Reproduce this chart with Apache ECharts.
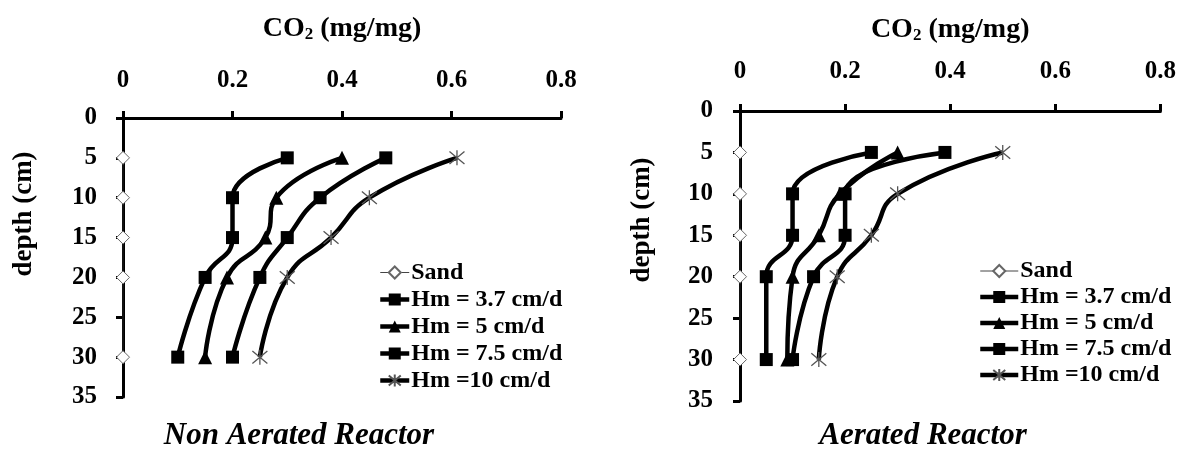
<!DOCTYPE html>
<html>
<head>
<meta charset="utf-8">
<script src="https://cdn.jsdelivr.net/npm/echarts@6/dist/echarts.min.js"></script>
<style>
html,body{margin:0;padding:0;background:#fff;}
#chart{width:1179px;height:451px;}
</style>
</head>
<body>
<div id="chart"></div>
<script>
// ---- data ----
var depths = [5, 10, 15, 20, 30];
var seriesNames = ['Sand', 'Hm = 3.7 cm/d', 'Hm = 5 cm/d', 'Hm = 7.5 cm/d', 'Hm =10 cm/d'];
var xTicks = [0, 0.2, 0.4, 0.6, 0.8];
var yTicks = [0, 5, 10, 15, 20, 25, 30, 35];

// Non aerated reactor (left)
var naSand = [0, 0, 0, 0, 0];
var naHm37 = [0.30, 0.20, 0.20, 0.15, 0.10];
var naHm5  = [0.40, 0.28, 0.26, 0.19, 0.15];
var naHm75 = [0.48, 0.36, 0.30, 0.25, 0.20];
var naHm10 = [0.61, 0.45, 0.38, 0.30, 0.25];

// Aerated reactor (right)
var aSand = [0, 0, 0, 0, 0];
var aHm37 = [0.25, 0.10, 0.10, 0.05, 0.05];
var aHm5  = [0.30, 0.19, 0.15, 0.10, 0.09];
var aHm75 = [0.39, 0.20, 0.20, 0.14, 0.10];
var aHm10 = [0.50, 0.30, 0.25, 0.185, 0.15];

var FONT = "'Liberation Serif', 'Times New Roman', serif";
var starPath = 'path://M0,0 L10,10 M10,0 L0,10 M5,-1 L5,11';

function pairs(vals) {
  return vals.map(function (v, i) { return [v, depths[i]]; });
}

function makeSeries(idx, sets) {
  var styles = [
    { symbol: 'diamond', symbolSize: 13, item: { color: '#fff', borderColor: '#666', borderWidth: 1 }, line: { color: '#222', width: 1 } },
    { symbol: 'rect', symbolSize: 13, item: { color: '#000', borderColor: '#000', borderWidth: 0 }, line: { color: '#000', width: 4.5 } },
    { symbol: 'triangle', symbolSize: 14, item: { color: '#000', borderColor: '#000', borderWidth: 0 }, line: { color: '#000', width: 4.5 } },
    { symbol: 'rect', symbolSize: 13, item: { color: '#000', borderColor: '#000', borderWidth: 0 }, line: { color: '#000', width: 4.5 } },
    { symbol: starPath, symbolSize: 15, item: { color: 'transparent', borderColor: '#555', borderWidth: 1.3 }, line: { color: '#000', width: 4.5 } }
  ];
  return sets.map(function (vals, k) {
    var s = styles[k];
    return {
      name: seriesNames[k],
      type: 'line',
      xAxisIndex: idx,
      yAxisIndex: idx,
      smooth: k === 0 ? false : 0.5,
      symbol: s.symbol,
      symbolSize: s.symbolSize,
      showAllSymbol: true,
      itemStyle: s.item,
      lineStyle: s.line,
      emphasis: { disabled: true },
      animation: false,
      data: pairs(vals)
    };
  });
}

function xAxisCfg(idx, nameGap, margin) {
  return {
    type: 'value',
    gridIndex: idx,
    position: 'top',
    min: xTicks[0],
    max: xTicks[xTicks.length - 1],
    interval: 0.2,
    name: '{a|CO}{b|2}{a| (mg/mg)}',
    nameLocation: 'middle',
    nameGap: nameGap,
    nameTextStyle: {
      rich: {
        a: { fontFamily: FONT, fontWeight: 'bold', fontSize: 28, color: '#000' },
        b: { fontFamily: FONT, fontWeight: 'bold', fontSize: 17, color: '#000', padding: [12, 0, 0, 0] }
      }
    },
    axisLine: { onZero: false, lineStyle: { color: '#000', width: 3 } },
    axisTick: { show: true, length: 7, lineStyle: { color: '#000', width: 3 } },
    axisLabel: {
      margin: margin,
      fontFamily: FONT, fontWeight: 'bold', fontSize: 25, color: '#000',
      formatter: function (v) { return v === 0 ? '0' : String(Math.round(v * 10) / 10); }
    },
    splitLine: { show: false }
  };
}

function yAxisCfg(idx, margin) {
  return {
    type: 'value',
    gridIndex: idx,
    inverse: true,
    min: yTicks[0],
    max: yTicks[yTicks.length - 1],
    interval: 5,
    axisLine: { onZero: false, lineStyle: { color: '#000', width: 3 } },
    axisTick: { show: true, length: 7, lineStyle: { color: '#000', width: 3 } },
    axisLabel: { margin: margin, fontFamily: FONT, fontWeight: 'bold', fontSize: 25, color: '#000' },
    splitLine: { show: false }
  };
}

function legendCfg(idx, left, top, itemW, lh) {
  return {
    orient: 'vertical',
    left: left,
    top: top,
    padding: 0,
    itemWidth: itemW,
    itemHeight: 15,
    itemGap: 0,
    selectedMode: false,
    lineStyle: { width: 'inherit' },
    data: seriesNames.map(function (n, k) {
      return k === 0 ? { name: n, lineStyle: { width: 1, color: '#444' } } : { name: n };
    }),
    textStyle: { fontFamily: FONT, fontWeight: 'bold', fontSize: 24, color: '#000', lineHeight: lh, padding: [0, 0, 0, -3] }
  };
}

var chart = echarts.init(document.getElementById('chart'), null, { renderer: 'canvas' });
var option = {
  backgroundColor: '#fff',
  animation: false,
  grid: [
    { left: 123, top: 118, width: 438, height: 279 },
    { left: 740, top: 111, width: 421, height: 290 }
  ],
  xAxis: [xAxisCfg(0, 75, 25), xAxisCfg(1, 67, 27)],
  yAxis: [yAxisCfg(0, 26), yAxisCfg(1, 27)],
  legend: [
    legendCfg(0, 378, 259, 29, 27),
    legendCfg(1, 978, 258, 38, 26)
  ],
  series: makeSeries(0, [naSand, naHm37, naHm5, naHm75, naHm10])
    .concat(makeSeries(1, [aSand, aHm37, aHm5, aHm75, aHm10])),
  graphic: [
    { type: 'text', x: 24, y: 214, rotation: Math.PI / 2,
      style: { text: 'depth (cm)', fontFamily: FONT, fontWeight: 'bold', fontSize: 27, fill: '#000', textAlign: 'center', textVerticalAlign: 'middle' } },
    { type: 'text', x: 642, y: 220, rotation: Math.PI / 2,
      style: { text: 'depth (cm)', fontFamily: FONT, fontWeight: 'bold', fontSize: 27, fill: '#000', textAlign: 'center', textVerticalAlign: 'middle' } },
    { type: 'text', x: 299, y: 436,
      style: { text: 'Non Aerated Reactor', fontFamily: FONT, fontStyle: 'italic', fontWeight: 'bold', fontSize: 31, fill: '#000', textAlign: 'center', textVerticalAlign: 'middle' } },
    { type: 'text', x: 923, y: 436,
      style: { text: 'Aerated Reactor', fontFamily: FONT, fontStyle: 'italic', fontWeight: 'bold', fontSize: 31, fill: '#000', textAlign: 'center', textVerticalAlign: 'middle' } }
  ]
};
chart.setOption(option);
</script>
</body>
</html>
